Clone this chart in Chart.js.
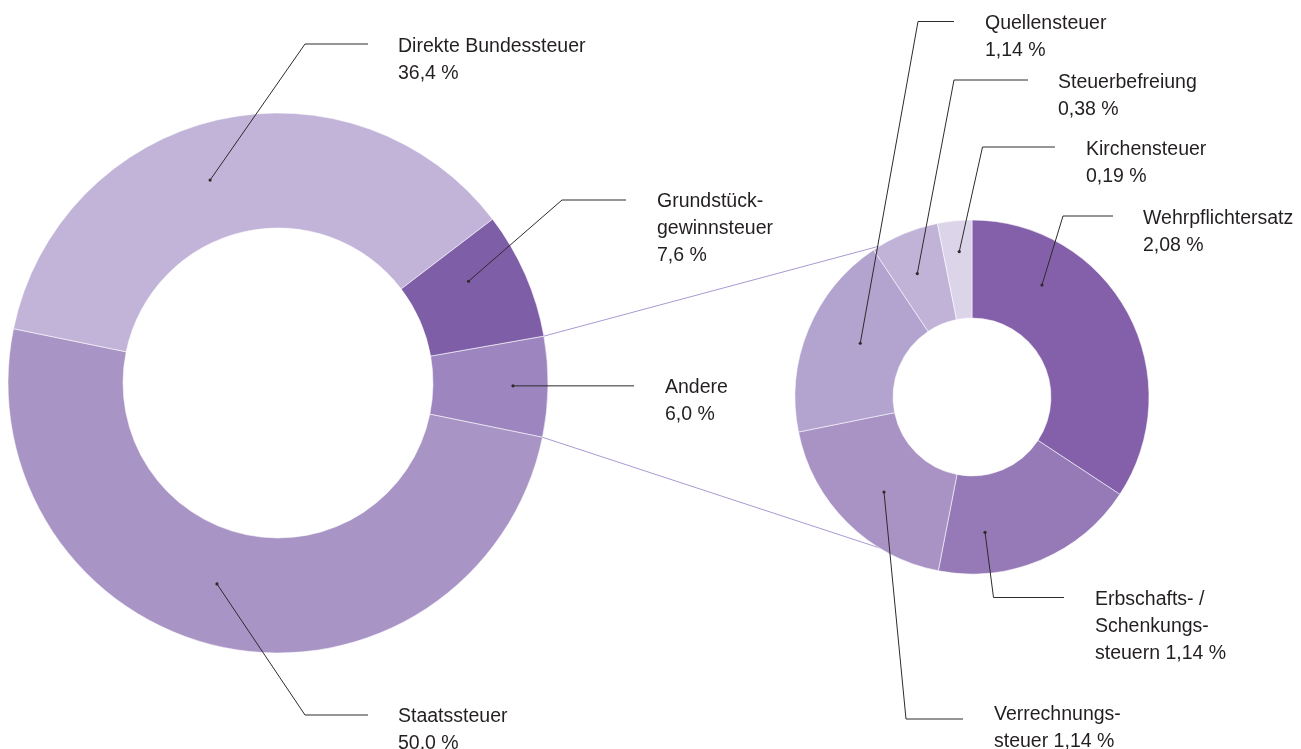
<!DOCTYPE html>
<html>
<head>
<meta charset="utf-8">
<script src="https://cdn.jsdelivr.net/npm/chart.js@4.4.1/dist/chart.umd.min.js"></script>
<style>
  html, body { margin: 0; padding: 0; background: #fff; overflow: hidden; }
  #wrap { position: relative; width: 1301px; height: 749px; }
  #wrap canvas { position: absolute; left: 0; top: 0; }
</style>
</head>
<body>
<div id="wrap">
  <canvas id="mainChart" width="1301" height="749" style="width:1301px;height:749px"></canvas>
  <canvas id="otherChart" width="1301" height="749" style="width:1301px;height:749px"></canvas>
</div>
<script>
// Steuerarten (Anteil in %)
const mainLabels = ['Andere', 'Staatssteuer', 'Direkte Bundessteuer', 'Grundstückgewinnsteuer'];
const mainValues = [6.0, 50.0, 36.4, 7.6];
const mainColors = ['#9d86bf', '#a994c6', '#c2b4d8', '#7f5ea8'];

// Aufteilung von "Andere"
const otherLabels = ['Wehrpflichtersatz', 'Erbschafts-/Schenkungssteuern', 'Verrechnungssteuer',
  'Quellensteuer', 'Steuerbefreiung', 'Kirchensteuer'];
const otherValues = [2.08, 1.14, 1.14, 1.14, 0.38, 0.19];
const otherColors = ['#8460aa', '#967ab7', '#a993c5', '#b3a3cf', '#c1b3d7', '#dcd4e9'];

const FONT = '19.5px "Liberation Sans", Arial, Helvetica, sans-serif';
const LINE_H = 27;

// Beschriftungen: Punkt (Winkel in Grad, Radius ab Mitte), Knick, Ende der Linie, Textposition
const mainCallouts = [
  { idx: 2, name: ['Direkte Bundessteuer'], dot: [251.5, 214], elbow: [305, 44], end: 368, textX: 398, textY: 44.5 },
  { idx: 3, name: ['Grundstück-', 'gewinnsteuer'], dot: [-28.1, 216], elbow: [562, 200], end: 626, textX: 657, textY: 200 },
  { idx: 0, name: ['Andere'], dot: [0.7, 235], elbow: null, end: 634, textX: 665, textY: 386 },
  { idx: 1, name: ['Staatssteuer'], dot: [106.9, 210], elbow: [305, 715], end: 368, textX: 398, textY: 715 }
];
const otherCallouts = [
  { idx: 3, name: ['Quellensteuer'], dot: [205.7, 124], elbow: [918, 21.5], end: 954, textX: 985, textY: 22 },
  { idx: 4, name: ['Steuerbefreiung'], dot: [246.1, 135], elbow: [954, 80], end: 1028, textX: 1058, textY: 81 },
  { idx: 5, name: ['Kirchensteuer'], dot: [265, 146], elbow: [982.5, 147], end: 1055, textX: 1086, textY: 148 },
  { idx: 0, name: ['Wehrpflichtersatz'], dot: [-58, 132], elbow: [1063, 216], end: 1113, textX: 1143, textY: 217 },
  { idx: 1, name: ['Erbschafts- /', 'Schenkungs-', 'steuern'], inline: true, dot: [84.5, 136], elbow: [993.5, 597.5], end: 1064, textX: 1095, textY: 598 },
  { idx: 2, name: ['Verrechnungs-', 'steuer'], inline: true, dot: [132.8, 129.5], elbow: [906, 719], end: 963, textX: 994, textY: 713 }
];

function makeCallouts(items, digits) {
  return {
    id: 'callouts',
    afterDraw(chart) {
      const ctx = chart.ctx;
      const arc = chart.getDatasetMeta(0).data[0];
      const values = chart.data.datasets[0].data;
      ctx.save();
      items.forEach(c => {
        const a = c.dot[0] * Math.PI / 180;
        const dx = arc.x + Math.cos(a) * c.dot[1];
        const dy = arc.y + Math.sin(a) * c.dot[1];
        ctx.strokeStyle = '#2e2a2b';
        ctx.lineWidth = 1;
        ctx.beginPath();
        ctx.moveTo(dx, dy);
        if (c.elbow) ctx.lineTo(c.elbow[0], c.elbow[1]);
        ctx.lineTo(c.end, c.elbow ? c.elbow[1] : dy);
        ctx.stroke();
        ctx.fillStyle = '#2e2a2b';
        ctx.beginPath();
        ctx.arc(dx, dy, 1.6, 0, Math.PI * 2);
        ctx.fill();

        const pct = values[c.idx].toFixed(digits).replace('.', ',') + ' %';
        const lines = c.name.slice();
        if (c.inline) lines[lines.length - 1] += ' ' + pct;
        else lines.push(pct);
        ctx.font = FONT;
        ctx.fillStyle = '#231f20';
        ctx.textBaseline = 'alphabetic';
        lines.forEach((t, i) => ctx.fillText(t, c.textX, c.textY + i * LINE_H + 7));
      });
      ctx.restore();
    }
  };
}

const mainChart = new Chart(document.getElementById('mainChart'), {
  type: 'doughnut',
  data: {
    labels: mainLabels,
    datasets: [{ data: mainValues, backgroundColor: mainColors, borderColor: 'rgba(255,255,255,0.55)', borderWidth: 1 }]
  },
  options: {
    responsive: false,
    animation: false,
    rotation: 80,
    radius: 270,
    cutout: '57.4%',
    layout: { padding: { left: 8, top: 113, right: 753, bottom: 96 } },
    plugins: { legend: { display: false }, tooltip: { enabled: false } },
    events: []
  },
  plugins: [makeCallouts(mainCallouts, 1)]
});

// Verbindungslinien vom Segment "Andere" zum rechten Ring
const zoomLines = {
  id: 'zoomLines',
  beforeDatasetsDraw(chart) {
    const src = mainChart.getDatasetMeta(0).data[0];
    const dst = chart.getDatasetMeta(0).data[0];
    const ctx = chart.ctx;
    const pairs = [[src.startAngle, (180 + 58.5) * Math.PI / 180], [src.endAngle, (180 - 58.5) * Math.PI / 180]];
    ctx.save();
    ctx.strokeStyle = '#ab99d2';
    ctx.lineWidth = 1;
    pairs.forEach(([a, b]) => {
      ctx.beginPath();
      ctx.moveTo(src.x + Math.cos(a) * src.outerRadius, src.y + Math.sin(a) * src.outerRadius);
      ctx.lineTo(dst.x + Math.cos(b) * dst.outerRadius, dst.y + Math.sin(b) * dst.outerRadius);
      ctx.stroke();
    });
    ctx.restore();
  }
};

new Chart(document.getElementById('otherChart'), {
  type: 'doughnut',
  data: {
    labels: otherLabels,
    datasets: [{ data: otherValues, backgroundColor: otherColors, borderColor: 'rgba(255,255,255,0.55)', borderWidth: 1 }]
  },
  options: {
    responsive: false,
    animation: false,
    rotation: 0,
    radius: 177,
    cutout: '44.6%',
    layout: { padding: { left: 795, top: 220, right: 152, bottom: 175 } },
    plugins: { legend: { display: false }, tooltip: { enabled: false } },
    events: []
  },
  plugins: [zoomLines, makeCallouts(otherCallouts, 2)]
});
</script>
</body>
</html>
